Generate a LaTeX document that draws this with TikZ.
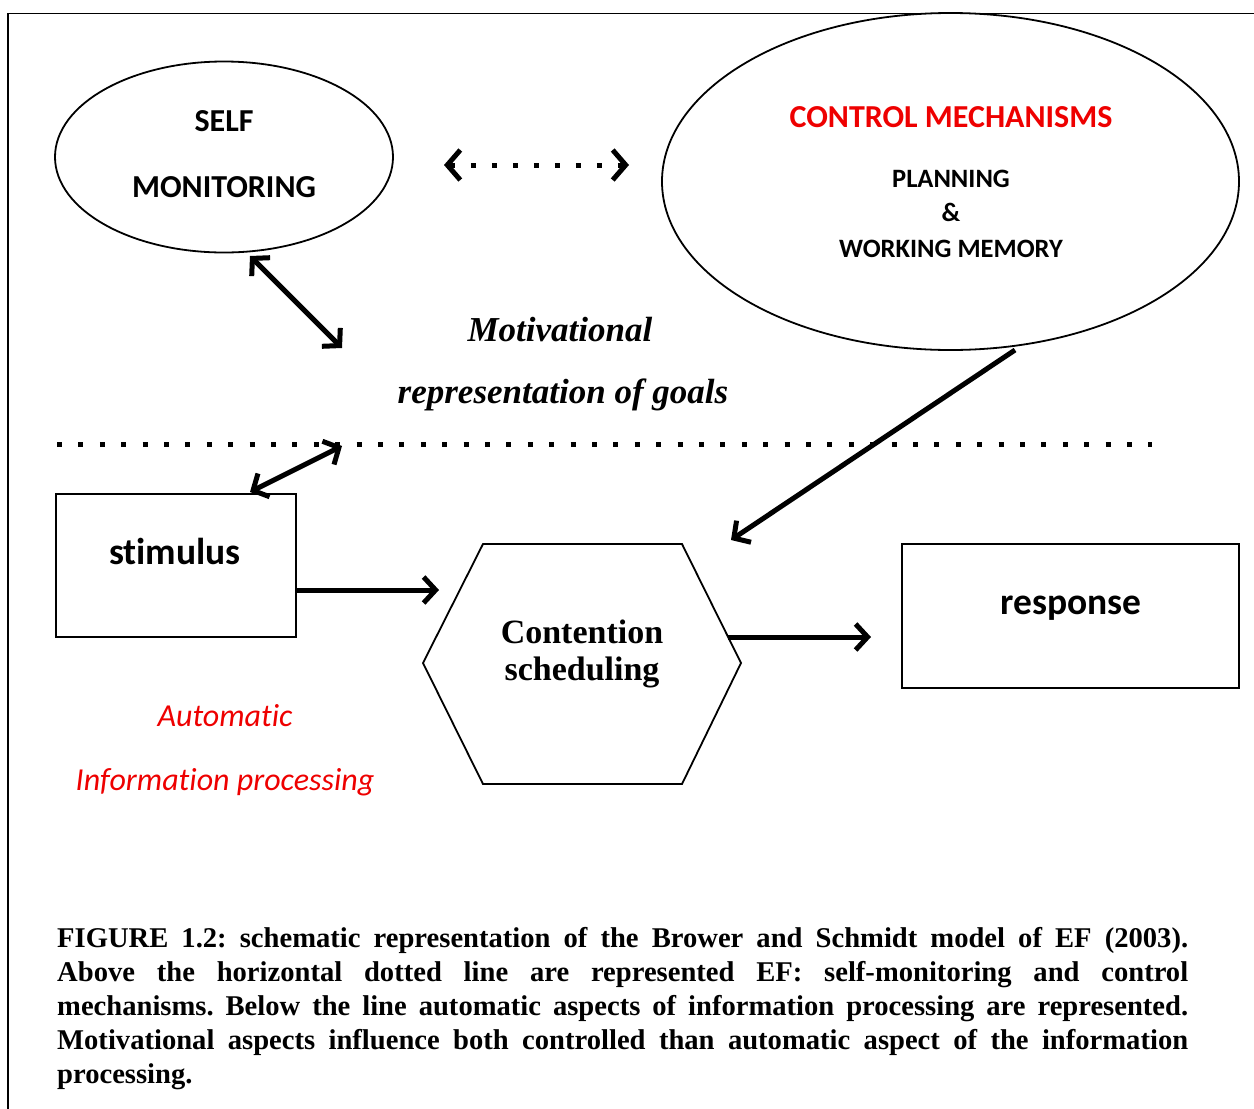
\documentclass[tikz,border=0pt]{standalone}
\usepackage{fontspec}
\setmainfont{Carlito}[RawFeature=-liga]
\newfontfamily\cambria{Liberation Serif}
\newfontfamily\capfont{Liberation Serif}
\usetikzlibrary{arrows.meta,shapes.geometric}
\definecolor{myred}{RGB}{238,0,0}
\tikzset{
  frame/.style={line width=1.5pt},
  oval/.style={ellipse,draw,line width=1.8pt,inner sep=0pt},
  boxnode/.style={draw,line width=1.8pt,inner sep=0pt},
  txt/.style={inner sep=0pt,anchor=base},
  tipb/.tip={Straight Barb[length=12pt,width=26pt]},
  thickarrow/.style={line width=5pt,tipb-tipb},
  onearrow/.style={line width=5pt,-tipb},
  dotline/.style={line width=5pt,dash pattern=on 5pt off 16.4pt},
}
\begin{document}
\begin{tikzpicture}[x=1pt,y=-1pt]
\useasboundingbox (0,0) rectangle (1254,1109);
% outer frame
\draw[frame] (8,1115) -- (8,13.5) -- (1262,13.5);

% self monitoring
\node[oval,minimum width=338pt,minimum height=191pt] (selfmon) at (224,157) {};
\node[txt,font=\bfseries\fontsize{32}{36}\selectfont] (tself) at (224,131) {SELF};
\node[txt,font=\bfseries\fontsize{32}{36}\selectfont] (tmon) at (224,197) {MONITORING};

% control mechanisms
\node[oval,minimum width=577pt,minimum height=337pt] (control) at (950.5,181.5) {};
\node[txt,font=\bfseries\fontsize{32}{36}\selectfont,text=myred] (tctrl) at (951,127) {CONTROL MECHANISMS};
\node[txt,font=\bfseries\fontsize{26.5}{30}\selectfont] (tplan) at (951,187) {PLANNING};
\node[txt,font=\bfseries\fontsize{26.5}{30}\selectfont] (tamp) at (951,221) {\&};
\node[txt,font=\bfseries\fontsize{26.5}{30}\selectfont] (twm) at (951,257) {WORKING MEMORY};

% dotted double arrow between ellipses
\coordinate (dl) at (444,165);
\coordinate (dr) at (629,165);
\draw[line width=5pt,dash pattern=on 5pt off 16pt,{Straight Barb[length=13pt,width=30pt]}-{Straight Barb[length=13pt,width=30pt]}] (dl) -- (dr);

% motivational text
\node[txt,font=\cambria\bfseries\itshape\fontsize{35}{40}\selectfont] (tmot) at (560,341) {Motivational};
\node[txt,font=\cambria\bfseries\itshape\fontsize{35}{40}\selectfont] (trep) at (563,403) {representation of goals};

% horizontal dotted line
\coordinate (hl) at (57,444);
\coordinate (hr) at (1152,444);
\draw[dotline] (hl) -- (hr);

% boxes
\node[boxnode,minimum width=240pt,minimum height=143pt] (stim) at (176,565.5) {};
\node[txt,font=\bfseries\fontsize{37.5}{42}\selectfont] (tstim) at (175,564) {stimulus};
\node[boxnode,minimum width=337pt,minimum height=144pt] (resp) at (1070.5,616) {};
\node[txt,font=\bfseries\fontsize{37.5}{42}\selectfont] (tresp) at (1071,614) {response};

% hexagon
\coordinate (h1) at (483,544);
\coordinate (h2) at (682,544);
\coordinate (h3) at (741,663);
\coordinate (h4) at (682,784);
\coordinate (h5) at (483,784);
\coordinate (h6) at (423,663);
\draw[line width=1.8pt,line join=miter] (h1) -- (h2) -- (h3) -- (h4) -- (h5) -- (h6) -- cycle;
\node[txt,font=\cambria\bfseries\fontsize{34}{38}\selectfont] (tcont) at (582,643) {Contention};
\node[txt,font=\cambria\bfseries\fontsize{34}{38}\selectfont] (tsched) at (582,680) {scheduling};

% red italic labels
\node[txt,font=\itshape\fontsize{32}{36}\selectfont,text=myred] (tauto) at (225,726) {Automatic};
\node[txt,font=\itshape\fontsize{32}{36}\selectfont,text=myred] (tinfo) at (225,790) {Information processing};

% arrows
\coordinate (smend) at (342,348);
\draw[thickarrow] (250,256) -- (smend);
\coordinate (stend) at (342,446);
\draw[thickarrow] (250,492) -- (stend);
\coordinate (hexin) at (439,590);
\draw[onearrow] (stim.east |- hexin) -- (hexin);
\coordinate (hexout) at (871,637);
\draw[onearrow] (728,637) -- (hexout);
\coordinate (ctrlstart) at (1015,350);
\coordinate (ctrlend) at (731,540);
\draw[onearrow] (ctrlstart) -- (ctrlend);

% caption
\node[inner sep=0pt,anchor=north west,text width=1131pt,align=justify,font=\capfont\bfseries\frenchspacing\fontsize{28.6}{34}\selectfont] (caption) at (57,927)
{FIGURE 1.2: schematic representation of the Brower and Schmidt model of EF (2003).\linebreak
Above the horizontal dotted line are represented EF: self-monitoring and control\linebreak
mechanisms. Below the line automatic aspects of information processing are represented.\linebreak
Motivational aspects influence both controlled than automatic aspect of the information\linebreak
processing.};
\end{tikzpicture}
\end{document}
